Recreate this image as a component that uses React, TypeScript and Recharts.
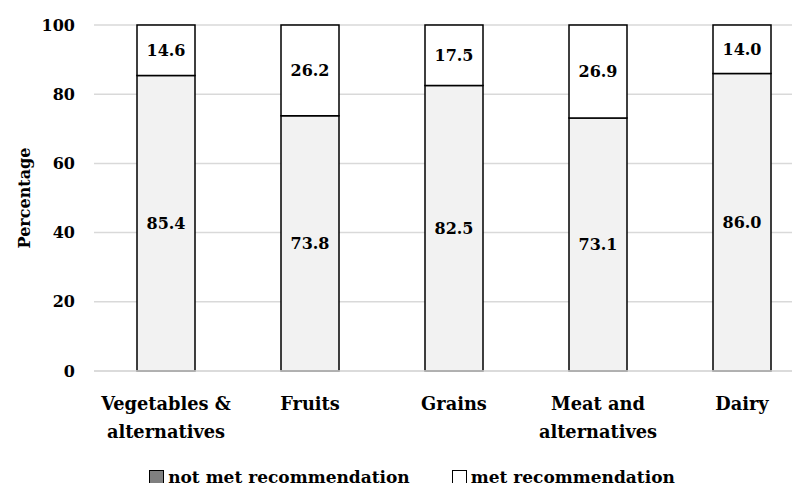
import React from 'react';
import { BarChart, Bar, XAxis, YAxis, CartesianGrid, LabelList, Legend, Label } from 'recharts';

const categories = ['Vegetables & alternatives', 'Fruits', 'Grains', 'Meat and alternatives', 'Dairy'];
const notMet = [85.4, 73.8, 82.5, 73.1, 86.0];
const met = [14.6, 26.2, 17.5, 26.9, 14.0];
const yTicks = [0, 20, 40, 60, 80, 100];

const data = categories.map((name, i) => ({ name, notMet: notMet[i], met: met[i] }));

const FONT = '"DejaVu Serif", serif';

function splitLabel(s: string): string[] {
    const idx = s.indexOf(' alternatives');
    if (idx > 0) return [s.slice(0, idx), 'alternatives'];
    return [s];
}

const CategoryTick = (props: any) => {
    const { x, y, payload } = props;
    const lines = splitLabel(payload.value);
    return (
        <g transform={`translate(${x},${y})`}>
            {lines.map((l, i) => (
                <text key={i} x={0} y={31 + i * 28} textAnchor="middle" fontFamily={FONT} fontWeight="bold" fontSize={17.8} fill="#000">
                    {l}
                </text>
            ))}
        </g>
    );
};

const LegendContent = () => (
    <div style={{ display: 'flex', justifyContent: 'center', gap: 42, fontFamily: FONT, fontWeight: 'bold', fontSize: 17, height: 20, lineHeight: '20px', alignItems: 'center', paddingLeft: 10 }}>
        <div style={{ display: 'flex', alignItems: 'center', gap: 4 }}>
            <div style={{ width: 13, height: 13, background: '#808080', border: '1px solid #000' }} />
            <span>not met recommendation</span>
        </div>
        <div style={{ display: 'flex', alignItems: 'center', gap: 4 }}>
            <div style={{ width: 13, height: 13, background: '#fff', border: '1px solid #000' }} />
            <span>met recommendation</span>
        </div>
    </div>
);

export default function App() {
    const valueStyle = { fontFamily: FONT, fontWeight: 'bold', fontSize: 16, fill: '#000' };
    return (
        <div style={{ margin: -8, width: 800, height: 491, overflow: 'hidden', background: '#fff', position: 'relative' }}>
            <BarChart width={830} height={491} data={data} margin={{ top: 25, right: 16, bottom: 0, left: 0 }}>
                <CartesianGrid vertical={false} stroke="#d9d9d9" strokeWidth={1.5} />
                <XAxis dataKey="name" height={100} tick={<CategoryTick />} tickLine={false} axisLine={{ stroke: '#d9d9d9', strokeWidth: 1.5 }} interval={0} />
                <YAxis
                    width={94}
                    domain={[0, 100]}
                    ticks={yTicks}
                    tickLine={false}
                    axisLine={false}
                    tickMargin={13}
                    tick={{ fontFamily: FONT, fontWeight: 'bold', fontSize: 16, fill: '#000' }}
                >
                    <Label value="Percentage" angle={-90} position="insideLeft" offset={24} style={{ fontFamily: FONT, fontWeight: 'bold', fontSize: 16, fill: '#000', textAnchor: 'middle' }} />
                </YAxis>
                <Legend verticalAlign="bottom" height={20} wrapperStyle={{ bottom: 4 }} content={<LegendContent />} />
                <Bar dataKey="notMet" stackId="a" fill="#f2f2f2" stroke="#000" strokeWidth={1.5} barSize={58} isAnimationActive={false}>
                    <LabelList dataKey="notMet" position="center" formatter={(v: any) => Number(v).toFixed(1)} style={valueStyle} />
                </Bar>
                <Bar dataKey="met" stackId="a" fill="#ffffff" stroke="#000" strokeWidth={1.5} barSize={58} isAnimationActive={false}>
                    <LabelList dataKey="met" position="center" formatter={(v: any) => Number(v).toFixed(1)} style={valueStyle} />
                </Bar>
            </BarChart>
        </div>
    );
}
